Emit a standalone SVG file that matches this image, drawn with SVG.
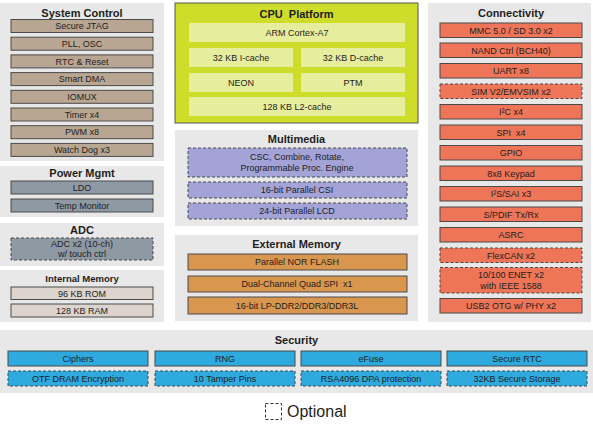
<svg xmlns="http://www.w3.org/2000/svg" width="593" height="425" viewBox="0 0 593 425">
<style>
text{font-family:"Liberation Sans",Arial,sans-serif;fill:#1e1e1e;text-anchor:middle}
.t{font-size:11px;font-weight:bold;white-space:pre}
.ts{font-size:9.5px;font-weight:bold}
.b{font-size:9px}
.p{fill:#e8e8e8}
.bx{stroke:#4a4a4a;stroke-width:1}
.d{stroke-dasharray:3,2}
.sc{fill:#b9a692}
.pw{fill:#8e99a4}
.im{fill:#dcd4cd}
.mm{fill:#a3a3d8}
.em{fill:#d9964f}
.cn{fill:#ee7558}
.se{fill:#2eaade}
.ci{fill:#e6ed9d}
</style>
<rect width="593" height="425" fill="#ffffff"/>

<g id="system-control">
<rect class="p" x="0" y="3" width="164" height="158"/>
<text class="t" x="82" y="17">System Control</text>
<rect class="bx sc" x="11" y="19.5" width="142" height="13"/><text class="b" x="82" y="29.2">Secure JTAG</text>
<rect class="bx sc" x="11" y="37.2" width="142" height="13"/><text class="b" x="82" y="46.9">PLL, OSC</text>
<rect class="bx sc" x="11" y="54.9" width="142" height="13"/><text class="b" x="82" y="64.6">RTC &amp; Reset</text>
<rect class="bx sc" x="11" y="72.6" width="142" height="13"/><text class="b" x="82" y="82.3">Smart DMA</text>
<rect class="bx sc" x="11" y="90.3" width="142" height="13"/><text class="b" x="82" y="100">IOMUX</text>
<rect class="bx sc" x="11" y="108" width="142" height="13"/><text class="b" x="82" y="117.7">Timer x4</text>
<rect class="bx sc" x="11" y="125.7" width="142" height="13"/><text class="b" x="82" y="135.4">PWM x8</text>
<rect class="bx sc" x="11" y="143.4" width="142" height="13"/><text class="b" x="82" y="153.1">Watch Dog x3</text>
</g>

<g id="power-mgmt">
<rect class="p" x="0" y="166" width="164" height="51"/>
<text class="t" x="82" y="177">Power Mgmt</text>
<rect class="bx pw" x="11" y="181" width="142" height="13"/><text class="b" x="82" y="190.7">LDO</text>
<rect class="bx pw" x="11" y="199" width="142" height="13"/><text class="b" x="82" y="208.7">Temp Monitor</text>
</g>

<g id="adc">
<rect class="p" x="0" y="223" width="164" height="43"/>
<text class="t" x="82" y="233.5">ADC</text>
<rect class="bx pw d" x="11" y="238" width="142" height="22"/>
<text class="b" x="82" y="246.5">ADC x2 (10-ch)</text>
<text class="b" x="82" y="256.5">w/ touch ctrl</text>
</g>

<g id="internal-memory">
<rect class="p" x="0" y="270" width="164" height="52"/>
<text class="ts" x="82" y="281.5">Internal Memory</text>
<rect class="bx im" x="11" y="287" width="142" height="12.5"/><text class="b" x="82" y="296.5">96 KB ROM</text>
<rect class="bx im" x="11" y="304" width="142" height="13"/><text class="b" x="82" y="313.7">128 KB RAM</text>
</g>

<g id="cpu-platform">
<rect x="175" y="3" width="243" height="120" fill="#cedc2a" stroke="#555" stroke-width="1"/>
<text class="t" x="296.5" y="18">CPU  Platform</text>
<rect class="ci" x="189" y="23" width="216" height="19"/><text class="b" x="297" y="35.5">ARM Cortex-A7</text>
<rect class="ci" x="189" y="48" width="104" height="19"/><text class="b" x="241" y="60.5">32 KB I-cache</text>
<rect class="ci" x="301" y="48" width="104" height="19"/><text class="b" x="353" y="60.5">32 KB D-cache</text>
<rect class="ci" x="189" y="73" width="104" height="19"/><text class="b" x="241" y="85.5">NEON</text>
<rect class="ci" x="301" y="73" width="104" height="19"/><text class="b" x="353" y="85.5">PTM</text>
<rect class="ci" x="189" y="97" width="216" height="19"/><text class="b" x="297" y="109.5">128 KB L2-cache</text>
</g>

<g id="multimedia">
<rect class="p" x="175" y="130" width="243" height="96"/>
<text class="t" x="296.5" y="143">Multimedia</text>
<rect class="bx mm d" x="188" y="148" width="219" height="29"/>
<text class="b" x="297" y="160">CSC, Combine, Rotate,</text>
<text class="b" x="297" y="171">Programmable Proc. Engine</text>
<rect class="bx mm d" x="188" y="182" width="219" height="16"/><text class="b" x="297" y="193">16-bit Parallel CSI</text>
<rect class="bx mm d" x="188" y="203" width="219" height="16"/><text class="b" x="297" y="214">24-bit Parallel LCD</text>
</g>

<g id="external-memory">
<rect class="p" x="175" y="235" width="243" height="86"/>
<text class="t" x="296.5" y="248">External Memory</text>
<rect class="bx em" x="188" y="254" width="219" height="16"/><text class="b" x="297" y="265">Parallel NOR FLASH</text>
<rect class="bx em" x="188" y="276" width="219" height="16"/><text class="b" x="297" y="287" style="white-space:pre">Dual-Channel Quad SPI  x1</text>
<rect class="bx em" x="188" y="297" width="219" height="17"/><text class="b" x="297" y="308.5">16-bit LP-DDR2/DDR3/DDR3L</text>
</g>

<g id="connectivity">
<rect class="p" x="428" y="3" width="163" height="319"/>
<text class="t" x="511" y="17">Connectivity</text>
<rect class="bx cn" x="440" y="23" width="142" height="14.5"/><text class="b" x="511" y="33.5">MMC 5.0 / SD 3.0 x2</text>
<rect class="bx cn" x="440" y="43" width="142" height="14.5"/><text class="b" x="511" y="53.5">NAND Ctrl (BCH40)</text>
<rect class="bx cn" x="440" y="63.5" width="142" height="14.5"/><text class="b" x="511" y="74">UART x8</text>
<rect class="bx cn d" x="440" y="84" width="142" height="14.5"/><text class="b" x="511" y="94.5">SIM V2/EMVSIM x2</text>
<rect class="bx cn" x="440" y="104.5" width="142" height="14.5"/><text class="b" x="511" y="115">I²C x4</text>
<rect class="bx cn" x="440" y="125" width="142" height="14.5"/><text class="b" x="511" y="135.5" style="white-space:pre">SPI  x4</text>
<rect class="bx cn" x="440" y="145.5" width="142" height="14.5"/><text class="b" x="511" y="156">GPIO</text>
<rect class="bx cn" x="440" y="166" width="142" height="14.5"/><text class="b" x="511" y="176.5">8x8 Keypad</text>
<rect class="bx cn" x="440" y="186.5" width="142" height="14.5"/><text class="b" x="511" y="197">I²S/SAI x3</text>
<rect class="bx cn" x="440" y="207" width="142" height="14.5"/><text class="b" x="511" y="217.5">S/PDIF Tx/Rx</text>
<rect class="bx cn" x="440" y="227.5" width="142" height="14.5"/><text class="b" x="511" y="238">ASRC</text>
<rect class="bx cn d" x="440" y="248" width="142" height="14.5"/><text class="b" x="511" y="258.5">FlexCAN x2</text>
<rect class="bx cn d" x="440" y="267.5" width="142" height="25.5"/>
<text class="b" x="511" y="278">10/100 ENET x2</text>
<text class="b" x="511" y="289">with IEEE 1588</text>
<rect class="bx cn" x="440" y="298.5" width="142" height="14.5"/><text class="b" x="511" y="309">USB2 OTG w/ PHY x2</text>
</g>

<g id="security">
<rect class="p" x="0" y="330" width="593" height="63"/>
<text class="t" x="296.5" y="344">Security</text>
<rect class="bx se" x="8" y="351" width="140" height="15"/><text class="b" x="78" y="361.8">Ciphers</text>
<rect class="bx se" x="155" y="351" width="140" height="15"/><text class="b" x="225" y="361.8">RNG</text>
<rect class="bx se" x="301" y="351" width="140" height="15"/><text class="b" x="371" y="361.8">eFuse</text>
<rect class="bx se" x="447" y="351" width="140" height="15"/><text class="b" x="517" y="361.8">Secure RTC</text>
<rect class="bx se d" x="8" y="371" width="140" height="15"/><text class="b" x="78" y="381.8">OTF DRAM Encryption</text>
<rect class="bx se d" x="155" y="371" width="140" height="15"/><text class="b" x="225" y="381.8">10 Tamper Pins</text>
<rect class="bx se d" x="301" y="371" width="140" height="15"/><text class="b" x="371" y="381.8">RSA4096 DPA protection</text>
<rect class="bx se d" x="447" y="371" width="140" height="15"/><text class="b" x="517" y="381.8">32KB Secure Storage</text>
</g>

<g id="legend">
<rect x="265.5" y="403.5" width="16" height="16" fill="#ffffff" stroke="#333" stroke-width="1" stroke-dasharray="3,2"/>
<text x="287" y="417" style="font-size:16px;text-anchor:start">Optional</text>
</g>
<g id="connectors"></g>
</svg>
